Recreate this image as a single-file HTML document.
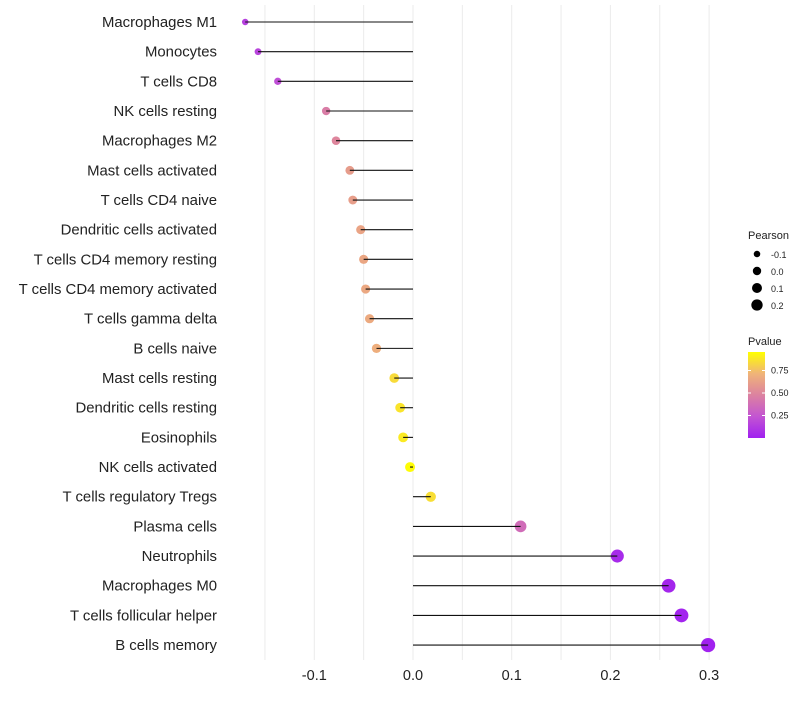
<!DOCTYPE html>
<html><head><meta charset="utf-8"><style>
body{margin:0;background:#fff}
svg{font-family:"Liberation Sans",sans-serif}
</style></head><body>
<svg id="chart" width="800" height="700" xmlns="http://www.w3.org/2000/svg"></svg>
<script>
const categories=["Macrophages M1","Monocytes","T cells CD8","NK cells resting","Macrophages M2","Mast cells activated","T cells CD4 naive","Dendritic cells activated","T cells CD4 memory resting","T cells CD4 memory activated","T cells gamma delta","B cells naive","Mast cells resting","Dendritic cells resting","Eosinophils","NK cells activated","T cells regulatory  Tregs","Plasma cells","Neutrophils","Macrophages M0","T cells follicular helper","B cells memory"];
const pearson=[-0.170,-0.157,-0.137,-0.088,-0.078,-0.064,-0.061,-0.053,-0.050,-0.048,-0.044,-0.037,-0.019,-0.013,-0.010,-0.003,0.018,0.109,0.207,0.259,0.272,0.299];
const pvalue=[0.15,0.17,0.22,0.47,0.52,0.63,0.64,0.67,0.68,0.69,0.70,0.72,0.88,0.91,0.93,0.99,0.89,0.38,0.05,0.03,0.02,0.01];
const xTicks=[-0.1,0.0,0.1,0.2,0.3];
const xTickLabels=["-0.1","0.0","0.1","0.2","0.3"];
const sizeLegend=[-0.1,0.0,0.1,0.2];
const colorTicks=[0.25,0.5,0.75];

const NS="http://www.w3.org/2000/svg";
const svg=document.getElementById('chart');
function el(t,a,p){const e=document.createElementNS(NS,t);for(const k in a)e.setAttribute(k,a[k]);(p||svg).appendChild(e);return e;}
const x=v=>413+v*987;
const y=i=>22+i*29.67;
const r=v=>Math.sqrt(Math.max(3,25+v*85));
const stops=[[0,[160,32,240]],[0.25,[195,85,210]],[0.5,[220,130,160]],[0.75,[240,180,120]],[1,[255,255,0]]];
function col(p){for(let i=1;i<stops.length;i++){if(p<=stops[i][0]){const a=stops[i-1],b=stops[i];const t=(p-a[0])/(b[0]-a[0]);return 'rgb('+a[1].map((c,j)=>Math.round(c+(b[1][j]-c)*t)).join(',')+')';}}return 'rgb(255,255,0)';}

const grid=el('g',{},svg);


for(let v=-0.15;v<=0.301;v+=0.05){el('line',{x1:x(v),x2:x(v),y1:5,y2:660,stroke:'#ebebeb','stroke-width':1},grid);}

xTicks.forEach((v,i)=>{const t=el('text',{x:x(v),y:680,'text-anchor':'middle','font-size':14.5,fill:'#222'});t.textContent=xTickLabels[i];

});

categories.forEach((c,i)=>{
 const t=el('text',{x:217,y:y(i)+5,'text-anchor':'end','font-size':14.9,fill:'#222'});t.textContent=c;
 
 
 const d=el('circle',{cx:x(pearson[i]),cy:y(i),r:r(pearson[i]),fill:col(pvalue[i])});
 
 
 const l=el('line',{x1:x(0),x2:x(pearson[i]),y1:y(i),y2:y(i),stroke:'#111','stroke-width':1.1});
 
 
});

const lg=el('g',{});


let tt=el('text',{x:748,y:239,'font-size':11,fill:'#222'},lg);tt.textContent='Pearson';
sizeLegend.forEach((v,i)=>{el('circle',{cx:757,cy:254+i*17,r:r(v)-0.8,fill:'#000'},lg);const t=el('text',{x:771,y:258+i*17,'font-size':9,fill:'#222'},lg);t.textContent=v.toFixed(1);});

const cg=el('g',{});


tt=el('text',{x:748,y:345,'font-size':11,fill:'#222'},cg);tt.textContent='Pvalue';
const defs=el('defs',{});const gr=el('linearGradient',{id:'pg',x1:0,y1:1,x2:0,y2:0},defs);
stops.forEach(s=>el('stop',{offset:s[0],'stop-color':col(s[0])},gr));
el('rect',{x:748,y:352,width:17,height:86,fill:'url(#pg)'},cg);
const cy=p=>438-p*90;
colorTicks.forEach(p=>{el('line',{x1:748,x2:751,y1:cy(p),y2:cy(p),stroke:'#fff'},cg);el('line',{x1:762,x2:765,y1:cy(p),y2:cy(p),stroke:'#fff'},cg);const t=el('text',{x:771,y:cy(p)+3,'font-size':9,fill:'#222'},cg);t.textContent=p.toFixed(2);});
</script>
</body></html>
